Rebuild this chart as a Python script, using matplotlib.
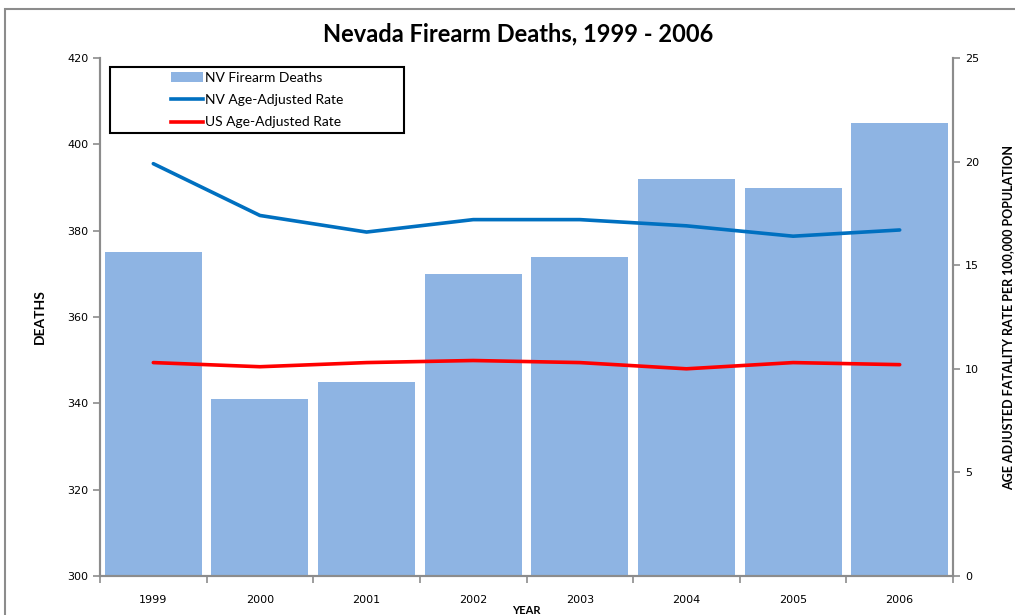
import matplotlib
matplotlib.use("Agg")
import matplotlib.pyplot as plt
from matplotlib.patches import Rectangle, Patch
from matplotlib.lines import Line2D
import numpy as np

years = ["1999", "2000", "2001", "2002", "2003", "2004", "2005", "2006"]
nv_deaths = [375, 341, 345, 370, 374, 392, 390, 405]
nv_rate = [19.9, 17.4, 16.6, 17.2, 17.2, 16.9, 16.4, 16.7]
us_rate = [10.3, 10.1, 10.3, 10.4, 10.3, 10.0, 10.3, 10.2]

plt.rcParams['font.family'] = ['DejaVu Sans']
LABEL_FONT = ['Lato', 'DejaVu Sans']

fig = plt.figure(figsize=(10.15, 6.15), dpi=100)
fig.patches.append(Rectangle((5 / 1015, -0.01), 1.1, 1 - 9 / 615 + 0.01,
                             transform=fig.transFigure, fill=False,
                             edgecolor="#8c8c8c", linewidth=1.5, zorder=0))

ax = fig.add_axes([100 / 1015, 1 - 576 / 615, 853 / 1015, 518 / 615])
ax2 = ax.twinx()

x = np.arange(len(years))
ax.bar(x, nv_deaths, width=0.91, bottom=0, color="#8EB4E3", zorder=2)
ax.set_ylim(300, 420)
ax.set_xlim(-0.5, len(years) - 0.5)
ax.set_yticks(np.arange(300, 421, 20))

ax2.plot(x, nv_rate, color="#0070C0", linewidth=2.6, solid_capstyle="round")
ax2.plot(x, us_rate, color="#FF0000", linewidth=2.6, solid_capstyle="round")
ax2.set_ylim(0, 25)
ax2.set_yticks(np.arange(0, 26, 5))

# Category axis: labels centred under bars, ticks at the category boundaries
ax.set_xticks(x)
ax.set_xticklabels(years)
ax.set_xticks(np.arange(-0.5, len(years), 1), minor=True)
ax.tick_params(axis="x", which="major", length=0, pad=14, labelsize=8)
ax.tick_params(axis="x", which="minor", length=5, color="#8c8c8c", width=1.2)
ax.tick_params(axis="y", length=5, color="#8c8c8c", width=1.2, labelsize=8)
ax2.tick_params(axis="y", length=5, color="#8c8c8c", width=1.2, labelsize=8)

for a in (ax, ax2):
    for side in ("left", "right", "bottom"):
        a.spines[side].set_color("#8c8c8c")
        a.spines[side].set_linewidth(1.5)
    a.spines["top"].set_visible(False)

ax.set_ylabel("DEATHS", fontsize=10, fontweight="bold", family=LABEL_FONT)
ax.yaxis.set_label_coords(-54 / 853, 0.5)
ax2.set_ylabel("AGE ADJUSTED FATALITY RATE PER 100,000 POPULATION",
               fontsize=9, fontweight="bold", family=LABEL_FONT,
               rotation=90, va="center")
ax2.yaxis.set_label_coords(1 + 55 / 853, 0.5)
ax.set_xlabel("YEAR", fontsize=8, fontweight="bold", family=LABEL_FONT)
ax.xaxis.set_label_coords(0.5, -29 / 518)

fig.text(0.51, 1 - 34 / 615, "Nevada Firearm Deaths, 1999 - 2006",
         ha="center", va="center", fontsize=17, fontweight="bold",
         family=LABEL_FONT)

# Legend: entries centred inside a fixed black box
box = (10 / 853, 1 - 75 / 518, 294 / 853, 66 / 518)
ax2.add_patch(Rectangle(box[:2], box[2], box[3], transform=ax2.transAxes,
                        fill=True, facecolor="white", edgecolor="black",
                        linewidth=1.5, zorder=4))
handles = [Patch(facecolor="#8EB4E3", edgecolor="none"),
           Line2D([], [], color="#0070C0", linewidth=2.6),
           Line2D([], [], color="#FF0000", linewidth=2.6)]
labels = ["NV Firearm Deaths", "NV Age-Adjusted Rate", "US Age-Adjusted Rate"]
leg = ax2.legend(handles, labels, loc="center", bbox_to_anchor=box,
                 prop={"family": LABEL_FONT, "size": 10}, frameon=False,
                 borderaxespad=0, handlelength=2.3, labelspacing=0.75,
                 handletextpad=0.15, borderpad=0.2)
leg.set_zorder(5)
leg._legend_box.align = "left"

fig.savefig("out.png", dpi=100)
